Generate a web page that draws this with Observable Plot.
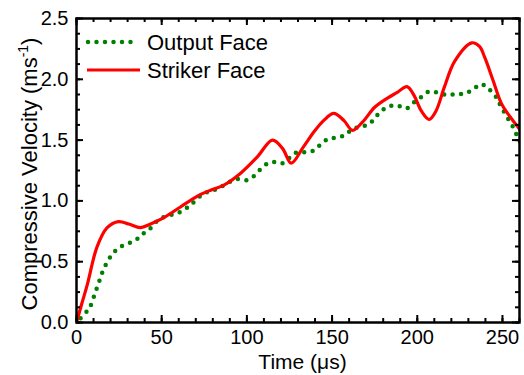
<!DOCTYPE html>
<html><head><meta charset="utf-8">
<script src="https://cdn.jsdelivr.net/npm/d3@7"></script>
<script src="https://cdn.jsdelivr.net/npm/@observablehq/plot@0.6"></script>
<style>
body{margin:0;background:#fff;}
#wrap{width:524px;height:375px;}
</style></head><body><div id="wrap"></div>
<script>
// Striker Face (red solid)
const strikerTime = [0,3,6.5,12,18,24.7,30.6,37.6,43.5,51,61,71,79,86.5,96.5,106,115,121,126,133,139.5,145,151,157,162,168,175,183,188,194,198,202.4,207,211,216,222,232,236.5,239.6,244.5,249.4,254,259,262];
const strikerVel  = [0,0.15,0.32,0.62,0.78,0.83,0.81,0.78,0.81,0.86,0.95,1.04,1.09,1.13,1.23,1.36,1.50,1.43,1.31,1.44,1.57,1.66,1.72,1.66,1.58,1.65,1.77,1.85,1.89,1.94,1.87,1.74,1.67,1.74,1.94,2.15,2.30,2.27,2.18,1.99,1.80,1.70,1.61,1.55];
// Output Face (green dotted)
const outputTime = [2.4,6.5,9,10.8,12.7,14.3,16,18.6,21.5,25.5,30.4,35,39,43,47,51.6,56.7,61,65.5,69.6,74.5,79,84,89,94,99.5,103.7,108,112.5,117,121,125.5,129.4,134,138.6,143,147.6,152.4,157.6,162,171.6,175,179,184,189,193.5,198,202,207,212,217.6,223,227.6,233,237.6,242,246,249,253.5,256.5,259,261];
const outputVel  = [0.035,0.1,0.16,0.24,0.31,0.38,0.44,0.51,0.57,0.62,0.65,0.68,0.73,0.77,0.83,0.87,0.89,0.91,0.95,1.0,1.06,1.08,1.11,1.15,1.18,1.17,1.2,1.26,1.31,1.32,1.31,1.36,1.40,1.40,1.41,1.46,1.51,1.52,1.54,1.59,1.63,1.68,1.74,1.78,1.78,1.76,1.81,1.85,1.90,1.89,1.87,1.88,1.88,1.92,1.96,1.92,1.86,1.78,1.67,1.60,1.52,1.47];

const xMajorTicks = [0,50,100,150,200,250];
const yMajorTicks = [0,0.5,1.0,1.5,2.0,2.5];
const xMinorTicks = d3.range(0,261,10);
const yMinorTicks = d3.range(0,2.5001,0.125);
const seriesNames = ["Output Face","Striker Face"];
const seriesColors = ["#008000","#ff0000"];

const striker = strikerTime.map((t,i)=>({t, v: strikerVel[i]}));
const output = outputTime.map((t,i)=>({t, v: outputVel[i]}));

const W = 524, H = 375;
const mL = 76, mR = 5, mT = 18, mB = 53;
const pw = W - mL - mR, ph = H - mT - mB;
const majLen = 7, minLen = 4;
const FONT = "'Liberation Sans', Arial, sans-serif";

const plot = Plot.plot({
  width: W, height: H,
  marginLeft: mL, marginRight: mR, marginTop: mT, marginBottom: mB,
  style: {fontFamily: FONT, fontSize: "20px", color: "black", background: "white"},
  x: {domain: [0,260]},
  y: {domain: [0,2.5]},
  marks: [
    Plot.line(output, {x: "t", y: "v", stroke: seriesColors[0], strokeWidth: 4.5, strokeDasharray: "0,8.5", strokeLinecap: "round", curve: "catmull-rom", clip: true}),
    Plot.line(striker, {x: "t", y: "v", stroke: seriesColors[1], strokeWidth: 3.2, curve: "catmull-rom", clip: true}),
    // bottom ticks
    Plot.tickX(xMinorTicks, {x: d=>d, insetTop: ph - minLen, strokeWidth: 2}),
    Plot.tickX(xMajorTicks, {x: d=>d, insetTop: ph - majLen, strokeWidth: 2}),
    // top ticks
    Plot.tickX(xMinorTicks, {x: d=>d, insetBottom: ph - minLen, strokeWidth: 2}),
    Plot.tickX(xMajorTicks, {x: d=>d, insetBottom: ph - majLen, strokeWidth: 2}),
    // left ticks
    Plot.tickY(yMinorTicks, {y: d=>d, insetRight: pw - minLen, strokeWidth: 2}),
    Plot.tickY(yMajorTicks, {y: d=>d, insetRight: pw - majLen, strokeWidth: 2}),
    // right ticks
    Plot.tickY(yMinorTicks, {y: d=>d, insetLeft: pw - minLen, strokeWidth: 2}),
    Plot.tickY(yMajorTicks, {y: d=>d, insetLeft: pw - majLen, strokeWidth: 2}),
    Plot.frame({stroke: "black", strokeWidth: 2.5}),
    Plot.axisX({ticks: xMajorTicks, tickSize: 0, tickPadding: 7, label: null, fontSize: 20}),
    Plot.axisY({ticks: yMajorTicks, tickSize: 0, tickPadding: 8, label: null, fontSize: 20, tickFormat: d3.format(".1f")})
  ]
});

const svg = d3.select(plot);
// axis titles
svg.append("text")
  .attr("x", mL + pw/2 + 5).attr("y", 369)
  .attr("text-anchor", "middle").attr("font-family", FONT).attr("font-size", 21).attr("fill", "black")
  .text("Time (\u03bcs)");
const yt = svg.append("text")
  .attr("transform", `translate(37,${mT + ph/2 + 4}) rotate(-90)`)
  .attr("text-anchor", "middle").attr("font-family", FONT).attr("font-size", 22).attr("fill", "black");
yt.append("tspan").text("Compressive Velocity (ms");
yt.append("tspan").attr("font-size", 14).attr("dy", -9).text("-1");
yt.append("tspan").attr("dy", 9).text(")");

// legend
const legY = [42, 70];
const lg = svg.append("g");
lg.append("line").attr("x1", 88).attr("x2", 136).attr("y1", legY[0]).attr("y2", legY[0])
  .attr("stroke", seriesColors[0]).attr("stroke-width", 4.5).attr("stroke-dasharray", "0,8.5").attr("stroke-linecap", "round");
lg.append("line").attr("x1", 87).attr("x2", 140).attr("y1", legY[1]).attr("y2", legY[1])
  .attr("stroke", seriesColors[1]).attr("stroke-width", 3.2);
seriesNames.forEach((n,i) => {
  lg.append("text").attr("x", 147).attr("y", legY[i] + 8)
    .attr("text-anchor", "start").attr("font-family", FONT).attr("font-size", 22).attr("fill", "black").text(n);
});

document.getElementById("wrap").appendChild(plot);
</script></body></html>
